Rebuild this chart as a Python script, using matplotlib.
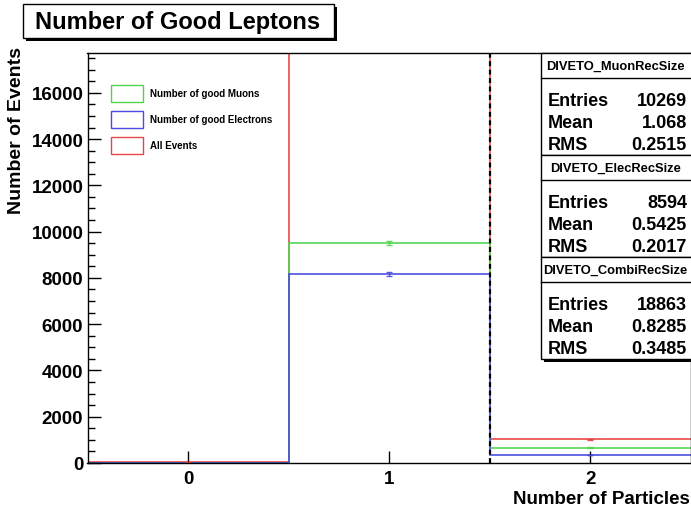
import matplotlib

matplotlib.use("Agg")
import matplotlib.pyplot as plt  # noqa: E402
from matplotlib.patches import Rectangle  # noqa: E402
from matplotlib.ticker import MultipleLocator  # noqa: E402
import numpy as np  # noqa: E402

W, H = 691, 510

# histogram contents
bin_edges = [-0.5, 0.5, 1.5, 2.5]
bin_centers = [0, 1, 2]
x_ticks = [0, 1, 2]
n_all = [30, 17720, 1025]
n_muons = [0, 9514, 662]
n_electrons = [0, 8186, 346]

legend_labels = ["Number of good Muons", "Number of good Electrons", "All Events"]

stat_names = ["DIVETO_MuonRecSize", "DIVETO_ElecRecSize", "DIVETO_CombiRecSize"]
stat_entries = ["10269", "8594", "18863"]
stat_mean = ["1.068", "0.5425", "0.8285"]
stat_rms = ["0.2515", "0.2017", "0.3485"]

RED = "#e84545"
GREEN = "#4fd64f"
BLUE = "#4a4ae0"

plt.rcParams.update(
    {
        "font.family": ["Liberation Sans", "DejaVu Sans"],
        "font.weight": "bold",
    }
)


def fx(px):
    return px / W


def fy(py):
    return (H - py) / H


def fig_rect(fig, x0, y0, x1, y1, shadow=3, lw=1.0, ec="black"):
    if shadow:
        fig.add_artist(Rectangle((fx(x0 + shadow), fy(y1 + shadow)),
                                 (x1 - x0) / W, (y1 - y0) / H,
                                 transform=fig.transFigure, fc="black",
                                 ec="none", zorder=1))
    fig.add_artist(Rectangle((fx(x0), fy(y1)), (x1 - x0) / W, (y1 - y0) / H,
                             transform=fig.transFigure, fc="white", ec=ec,
                             lw=lw, zorder=2))


def hline(fig, x0, x1, y):
    fig.add_artist(plt.Line2D([fx(x0), fx(x1)], [fy(y), fy(y)],
                              transform=fig.transFigure, color="black",
                              lw=1.0, zorder=3))


fig = plt.figure(figsize=(W / 100, H / 100), dpi=100)
ax = fig.add_axes([fx(87.5), fy(464), (W - 87.5) / W, (464 - 54) / H])

ymax = max(n_all)
for vals, col in [(n_all, RED), (n_muons, GREEN), (n_electrons, BLUE)]:
    ax.stairs(vals, bin_edges, color=col, lw=1.3, baseline=None, alpha=0.9)
    v = np.array(vals, dtype=float)
    keep = (v > 0) & (v < ymax)
    ax.errorbar(np.array(bin_centers)[keep], v[keep], yerr=np.sqrt(v[keep]),
                fmt="none", ecolor=col, elinewidth=1.0, capsize=2, alpha=0.9)

ax.axvline(1.5, color="black", ls=(0, (2.2, 1.6)), lw=1.6, zorder=5)

ax.set_xlim(-0.5, 2.5)
ax.set_ylim(0, ymax)
ax.set_xticks(x_ticks)
ax.yaxis.set_major_locator(MultipleLocator(2000))
ax.yaxis.set_minor_locator(MultipleLocator(500))
ax.tick_params(axis="both", which="major", direction="in", length=9,
               width=1, labelsize=13.5)
ax.tick_params(axis="y", which="minor", direction="in", length=5, width=1)
ax.tick_params(axis="x", which="major", pad=5)
ax.tick_params(axis="y", which="major", pad=3)
for lab in ax.get_xticklabels() + ax.get_yticklabels():
    lab.set_fontweight("bold")
for sp in ax.spines.values():
    sp.set_linewidth(1.0)

fig.text(fx(690), fy(500), "Number of Particles", ha="right", va="center",
         fontsize=13.5, fontweight="bold")
fig.text(fx(17), fy(47), "Number of Events", ha="center", va="top",
         rotation=90, fontsize=14, fontweight="bold")

# title box
fig_rect(fig, 23, 5, 334, 39, shadow=3)
fig.text(fx(178), fy(22), "Number of Good Leptons", ha="center",
         va="center", fontsize=17, fontweight="bold", zorder=4)

# legend
leg_y = [94, 120, 146]
for lab, col, yc in zip(legend_labels, [GREEN, BLUE, RED], leg_y):
    fig.add_artist(Rectangle((fx(111), fy(yc + 8.5)), 32 / W, 17 / H,
                             transform=fig.transFigure, fc="white", ec=col,
                             lw=1.0, zorder=3))
    fig.text(fx(150), fy(yc), lab, ha="left", va="center", fontsize=7,
             fontweight="bold", zorder=4)

# stats boxes, stacked down the right edge
box_h = 102
for i in range(3):
    top = 54 + i * box_h
    fig_rect(fig, 541, top, 692, top + box_h, shadow=3)
for i in range(3):
    top = 54 + i * box_h
    hline(fig, 541, 692, top + 25)
    fig.text(fx(615.5), fy(top + 12.5), stat_names[i], ha="center",
             va="center", fontsize=9.3, fontweight="bold", zorder=4)
    rows = [("Entries", stat_entries[i]), ("Mean", stat_mean[i]),
            ("RMS", stat_rms[i])]
    for j, (name, val) in enumerate(rows):
        yc = top + 48 + j * 22
        fig.text(fx(548), fy(yc), name, ha="left", va="center",
                 fontsize=13, fontweight="bold", zorder=4)
        fig.text(fx(687), fy(yc), val, ha="right", va="center",
                 fontsize=13, fontweight="bold", zorder=4)

fig.savefig("out.png", dpi=100)
